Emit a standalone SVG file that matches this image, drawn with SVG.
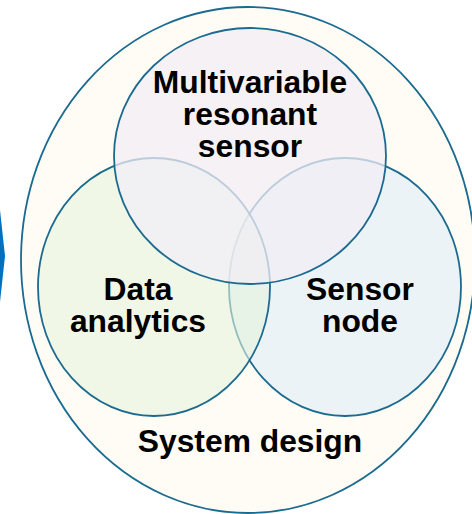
<svg xmlns="http://www.w3.org/2000/svg" width="472" height="514" viewBox="0 0 472 514">
<style>
.c{stroke:#1B6A90;stroke-width:1.8}
.t{font-family:"Liberation Sans",Arial,sans-serif;font-weight:bold;font-size:31.8px;fill:#000;text-anchor:middle}
</style>
<rect width="472" height="514" fill="#fff"/>
<polygon points="0,210 5,256 0,302" fill="#0070C0"/>
<g id="system-design">
<ellipse cx="248" cy="260" rx="227" ry="253" fill="#FEFCF4" class="c"/>
<text class="t" x="250" y="452">System design</text>
</g>
<g id="sensor-node">
<ellipse cx="345" cy="287" rx="116" ry="129" fill="#E4F0F8" fill-opacity="0.7" class="c"/>
</g>
<g id="data-analytics">
<ellipse cx="154" cy="287" rx="116" ry="129" fill="#E6F3DC" fill-opacity="0.6" class="c"/>
</g>
<g id="resonant-sensor">
<ellipse cx="250" cy="156" rx="136" ry="128" fill="#F2EEF5" fill-opacity="0.75" class="c"/>
</g>
<g id="labels">
<text class="t" x="250" y="93">Multivariable</text>
<text class="t" x="250" y="125">resonant</text>
<text class="t" x="250" y="157">sensor</text>
<text class="t" x="138" y="300">Data</text>
<text class="t" x="138" y="332">analytics</text>
<text class="t" x="360" y="300">Sensor</text>
<text class="t" x="360" y="332">node</text>
</g>
<g id="connectors"/>
</svg>
